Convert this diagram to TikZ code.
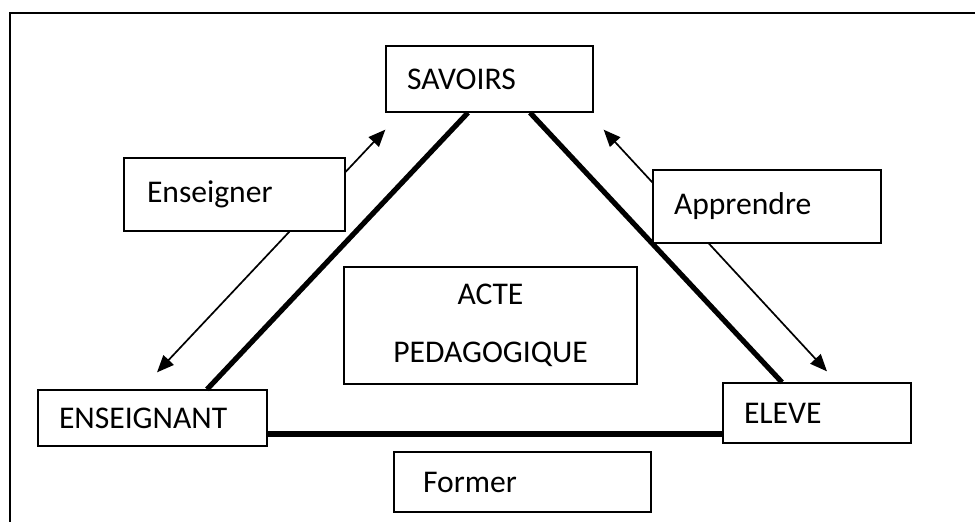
\documentclass[tikz,border=0pt]{standalone}
\usepackage{fontspec}
\setmainfont{Carlito}
\usetikzlibrary{arrows.meta}

\begin{document}
\begin{tikzpicture}[
      x=0.5pt, y=-0.5pt,
      >={Triangle[length=8.5pt,width=7pt]},
      box/.style={draw,fill=white,line width=0.65pt,inner xsep=10.5pt,inner ysep=0pt,align=left,
        font=\fontsize{15.8}{29}\selectfont},
      side/.style={line width=2.6pt},
      double link/.style={<->,line width=0.85pt},
      frame/.style={line width=1pt}
      ]
      \useasboundingbox (0,0) rectangle (975,521);
      \clip (0,0) rectangle (975,521);
      % frame
      \draw [frame] (9.5,540) -- (9.5,13) -- (990,13);
      % poles
      \node [box,text width=82.5pt,minimum height=33pt] (sav) at (489.5,79) {SAVOIRS};
      \node [box,text width=93.5pt,minimum height=28pt] (ens) at (152.5,418) {ENSEIGNANT};
      \node [box,text width=73pt,minimum height=30pt] (elv) at (817,413) {ELEVE};
      \node [box,align=center,text width=125.5pt,minimum height=58.5pt] (acte) at (490.5,325.5) {ACTE\\PEDAGOGIQUE};
      % triangle
      \draw [side] ([xshift=27.25pt]ens.north) -- ([xshift=-10.75pt]sav.south);
      \draw [side] ([xshift=20.25pt]sav.south) -- ([xshift=-17.5pt]elv.north);
      \draw [side] ([yshift=-8pt]ens.east) -- ([yshift=-10.5pt]elv.west);
      % arrows
      \draw [double link] ([xshift=2.25pt,yshift=8.5pt]ens.north) -- ([yshift=-8.5pt]sav.south west);
      \draw [double link] ([xshift=5pt,yshift=-8.5pt]sav.south east) -- ([xshift=5pt,yshift=5.5pt]elv.north);
      % actions
      \node [box,inner xsep=11.5pt,text width=87.5pt,minimum height=36.5pt] (ensg) at (234.5,194.5) {Enseigner};
      \node [box,text width=93pt,minimum height=36.5pt] (appr) at (767,206.5) {Apprendre};
      \node [box,inner xsep=14.5pt,text width=99.5pt,minimum height=30pt] (form) at (522.5,482) {Former};
\end{tikzpicture}
\end{document}
